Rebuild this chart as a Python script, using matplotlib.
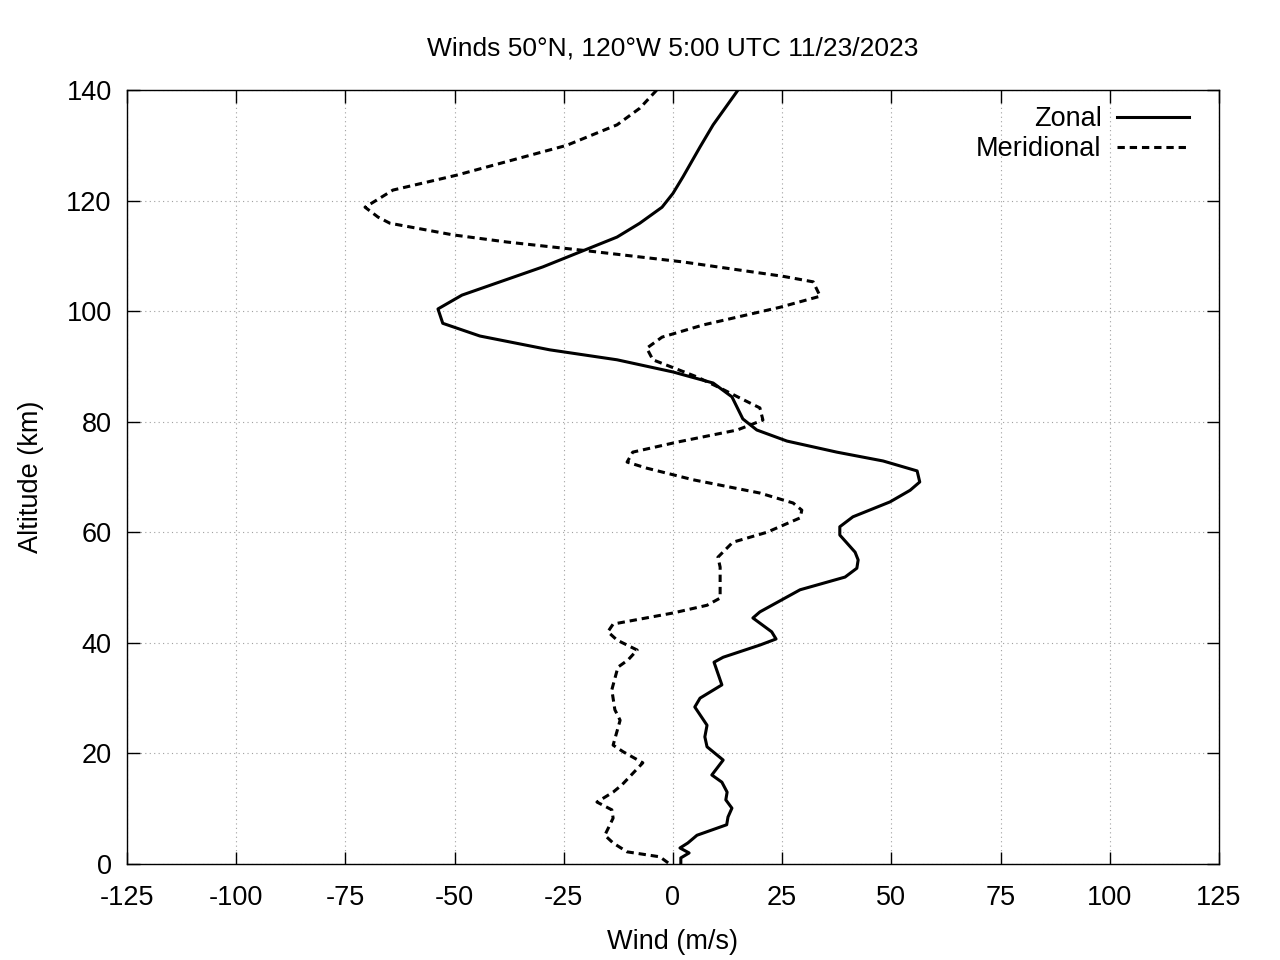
import matplotlib
matplotlib.use("Agg")
import matplotlib.pyplot as plt

plt.rcParams['font.family'] = ['Liberation Sans', 'DejaVu Sans']
plt.rcParams['axes.unicode_minus'] = False

# zonal wind profile (m/s) vs altitude (km)
zonal_alt = [0, 1.1, 2.0, 2.9, 3.8, 5.2, 7.1, 8.5, 10.1, 11.6, 13.0, 14.8, 16.1,
             18.8, 21.2, 23.0, 25.1, 28.4, 30.0, 32.4, 36.5, 37.4, 39.6, 40.7,
             42.0, 44.5, 45.6, 49.6, 51.9, 53.5, 55.0, 56.4, 59.5, 61.0, 62.8,
             65.5, 67.6, 69.1, 71.1, 72.9, 74.5, 76.5, 78.5, 80.5, 84.5, 87.0,
             89.0, 91.2, 93.0, 95.5, 97.8, 100.4, 102.9, 108.0, 113.4, 115.9,
             118.8, 121.3, 124.3, 129.7, 133.7, 140.0]
zonal_wind = [1.8, 1.8, 3.7, 1.6, 3.4, 5.5, 12.3, 12.6, 13.5, 12.1, 12.4, 11.2, 8.9,
              11.5, 7.8, 7.3, 7.8, 5.0, 6.2, 11.2, 9.4, 11.5, 19.9, 23.6,
              22.6, 18.3, 19.9, 29.1, 39.4, 42.1, 42.4, 41.7, 38.2, 38.2, 41.2,
              49.7, 54.3, 56.5, 55.9, 48.1, 37.5, 26.1, 19.2, 16.0, 13.5, 9.2,
              0.0, -12.8, -28.2, -44.2, -52.7, -53.8, -48.3, -29.8, -12.8, -7.6,
              -2.5, 0.0, 2.3, 6.2, 9.2, 14.9]

# meridional wind profile
merid_alt = [0.2, 1.3, 2.2, 3.8, 5.2, 8.3, 9.8, 11.2, 13.0, 14.3, 18.3, 20.3, 21.5,
             26.0, 27.9, 31.5, 35.6, 36.9, 38.7, 40.5, 42.0, 43.4, 45.4, 46.8,
             48.1, 53.7, 55.5, 58.2, 60.0, 62.6, 64.0, 65.3, 67.1, 69.5, 71.6,
             72.7, 74.5, 76.3, 78.5, 80.3, 82.5, 84.3, 86.1, 88.1, 91.2, 93.3,
             95.3, 97.5, 100.7, 102.7, 105.3, 106.3, 108.9, 111.0, 112.5, 113.8,
             115.9, 117.0, 118.8, 120.1, 121.9, 124.6, 130.0, 133.7, 136.7, 140.0]
merid_wind = [-1.1, -3.0, -10.5, -13.7, -15.6, -13.7, -14.0, -17.4, -13.7, -11.7, -6.9, -11.4, -13.7,
              -12.1, -13.3, -14.0, -12.6, -10.3, -8.2, -12.8, -14.9, -13.7, 0.0, 7.8,
              10.8, 10.8, 10.3, 13.7, 21.5, 29.1, 29.5, 27.5, 19.9, 4.6, -6.0,
              -10.5, -9.2, 0.9, 14.7, 20.6, 19.9, 15.3, 10.8, 5.5, -4.6, -6.0,
              -2.5, 6.9, 24.5, 33.7, 32.1, 25.2, 2.3, -20.6, -38.0, -50.4,
              -64.8, -67.5, -70.5, -67.8, -64.1, -49.5, -24.3, -12.8, -7.6, -3.7]

fs = 19.5

fig = plt.figure(figsize=(12.8, 9.6), dpi=100)
ax = fig.add_axes([0.0992, 0.1, 0.8531, 0.80625])

ax.plot(zonal_wind, zonal_alt, color='black', lw=2.2, label='Zonal')
ax.plot(merid_wind, merid_alt, color='black', lw=2.2, ls=(0, (2.4, 1.6)),
        label='Meridional')

ax.set_xlim(-125, 125)
ax.set_ylim(0, 140)
ax.set_xticks(range(-125, 126, 25))
ax.set_yticks(range(0, 141, 20))
ax.tick_params(direction='in', length=9, width=1, labelsize=fs,
               top=True, right=True)
ax.tick_params(axis='x', pad=15)
ax.tick_params(axis='y', pad=11)
ax.grid(True, color='#a0a0a0', ls=(0, (1, 3)), lw=0.8)
for s in ax.spines.values():
    s.set_linewidth(1)

ax.set_xlabel('Wind (m/s)', fontsize=fs, labelpad=13)
ax.set_ylabel('Altitude (km)', fontsize=fs, labelpad=16)
ax.set_title('Winds 50°N, 120°W 5:00 UTC 11/23/2023', fontsize=19, pad=25)

ax.legend(loc='upper right', bbox_to_anchor=(0.9725, 0.979), frameon=False,
          markerfirst=False, fontsize=fs, handlelength=2.67,
          handletextpad=0.55, labelspacing=0.15,
          borderaxespad=0, borderpad=0)

fig.savefig('out.png', dpi=100)
